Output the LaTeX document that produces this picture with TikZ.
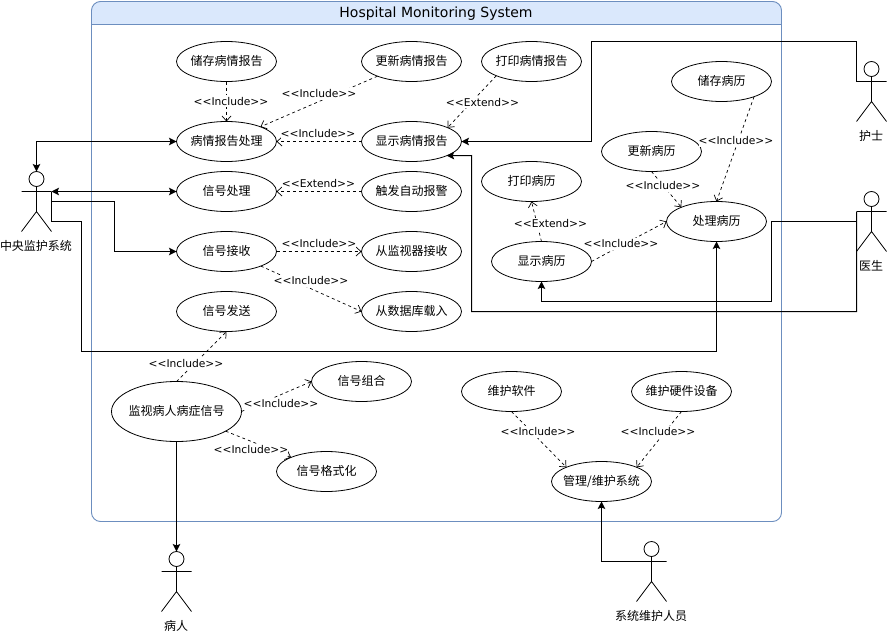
\documentclass[tikz,border=0pt]{standalone}
\usepackage{fontspec}
\setmainfont{DejaVu Sans}
\newfontfamily\cjkf{Noto Sans CJK SC}
\usetikzlibrary{arrows.meta,shapes.geometric}
\definecolor{frameblue}{HTML}{6C8EBF}
\definecolor{titleblue}{HTML}{DAE8FC}
\newcommand{\ucname}[1]{\smash{\makebox[0pt][c]{\raisebox{-4.4pt}{#1}}}}
\newcommand{\incl}{{<}{<}Include{>}{>}}
\newcommand{\extd}{{<}{<}Extend{>}{>}}
\tikzset{
  usecase/.style={ellipse,draw=black,line width=0.8pt,fill=white,inner sep=0pt,outer sep=0pt,minimum width=100pt,minimum height=40pt,font=\cjkf\fontsize{12}{14}\selectfont},
  actorbox/.style={rectangle,inner sep=0pt,outer sep=0pt,minimum width=30pt,minimum height=60pt},
  actorline/.style={draw=black,line width=0.8pt},
  actortext/.style={font=\cjkf\fontsize{12}{14}\selectfont,inner sep=0pt},
  assoc/.style={draw=black,line width=1pt,>={Stealth[length=7.5pt,width=7.5pt,inset=1.5pt]}},
  dep/.style={draw=black,line width=0.7pt,dash pattern=on 3pt off 3pt,-{Straight Barb[length=5pt,width=9pt]}},
  deplabel/.style={fill=white,inner xsep=0pt,inner ysep=0pt,minimum height=12pt,yshift=-0.7pt,font=\fontsize{10.7}{12}\selectfont},
}
\newcommand{\actorfig}[4]{%
  \node[actorbox] (#1) at (#2+15,#3+30) {};
  \coordinate (#1-al) at (#2,#3+20);
  \coordinate (#1-ar) at (#2+30,#3+20);
  \coordinate (#1-r) at (#2+30,#3+50);
  \draw[actorline,fill=white] (#2+15,#3+7.5) circle (7.5pt);
  \draw[actorline] (#2+15,#3+15) -- (#2+15,#3+40) (#2,#3+20) -- (#2+30,#3+20) (#2,#3+60) -- (#2+15,#3+40) -- (#2+30,#3+60);
  \node[actortext] (#1-label) at (#2+14.5,#3+74.5) {#4};
}
\begin{document}
\begin{tikzpicture}[x=1pt,y=-1pt]
\useasboundingbox (0,0) rectangle (887,632);
% system frame
\begin{scope}
\clip (91.5,0) rectangle (781.5,24.5);
\fill[titleblue,rounded corners=9pt] (91.5,1.5) rectangle (781.5,60);
\end{scope}
\draw[frameblue,line width=0.9pt,rounded corners=9pt] (91.5,1.5) rectangle (781.5,521.5);
\draw[frameblue,line width=0.9pt] (91.5,24.5) -- (781.5,24.5);
\node[inner sep=0pt,font=\fontsize{14}{16}\selectfont] (title) at (436,13.5) {Hospital Monitoring System};
% use cases
\node[usecase] (storereport) at (226.5,61.5) {\ucname{储存病情报告}};
\node[usecase] (updatereport) at (411.5,61.5) {\ucname{更新病情报告}};
\node[usecase] (printreport) at (531.5,61.5) {\ucname{打印病情报告}};
\node[usecase] (reportproc) at (226.5,141.5) {\ucname{病情报告处理}};
\node[usecase] (showreport) at (411.5,141.5) {\ucname{显示病情报告}};
\node[usecase] (sigproc) at (226.5,191.5) {\ucname{信号处理}};
\node[usecase] (alarm) at (411.5,191.5) {\ucname{触发自动报警}};
\node[usecase] (sigrecv) at (226.5,251.5) {\ucname{信号接收}};
\node[usecase] (frommon) at (411.5,251.5) {\ucname{从监视器接收}};
\node[usecase] (sigsend) at (226.5,311.5) {\ucname{信号发送}};
\node[usecase] (fromdb) at (411.5,311.5) {\ucname{从数据库载入}};
\node[usecase,minimum width=130pt,minimum height=60pt] (monitor) at (176.5,411.5) {\ucname{监视病人病症信号}};
\node[usecase] (sigcomb) at (361.5,381.5) {\ucname{信号组合}};
\node[usecase] (sigfmt) at (326.5,471.5) {\ucname{信号格式化}};
\node[usecase] (storerec) at (721.5,81.5) {\ucname{储存病历}};
\node[usecase] (updaterec) at (651.5,151.5) {\ucname{更新病历}};
\node[usecase] (printrec) at (531.5,181.5) {\ucname{打印病历}};
\node[usecase] (rec) at (716.5,221.5) {\ucname{处理病历}};
\node[usecase] (showrec) at (541.5,261.5) {\ucname{显示病历}};
\node[usecase] (mntsw) at (511.5,391.5) {\ucname{维护软件}};
\node[usecase] (mnthw) at (681.5,391.5) {\ucname{维护硬件设备}};
\node[usecase] (manage) at (601.5,481.5) {\ucname{管理/维护系统}};
% actors
\actorfig{central}{21.5}{171.5}{中央监护系统}
\actorfig{nurse}{856.5}{61.5}{护士}
\actorfig{doctor}{856.5}{191.5}{医生}
\actorfig{patient}{161.5}{551.5}{病人}
\actorfig{maint}{636.5}{541.5}{系统维护人员}
% associations
\draw[assoc,<->] (central.north) |- (reportproc.west);
\draw[assoc,<->] (central-ar) -- (sigproc.west);
\draw[assoc,->] (central.east) -- (114.5,201.5) -- (114.5,251.5) -- (sigrecv.west);
\draw[assoc,->] (central-ar) -- (central-r) -- (81.5,221.5) -- (81.5,351.5) -| (rec.south);
\draw[assoc,->] (nurse-al) -- (856.5,41.5) -- (591.5,41.5) -- (591.5,141.5) -- (showreport.east);
\draw[assoc,->] (doctor.west) -- (771.5,221.5) -- (771.5,301.5) -| (showrec.south);
\draw[assoc,->] (doctor-al) -- (856.5,311.5) -- (471.5,311.5) -- (471.5,155.5) -- (showreport.338);
\draw[assoc,->] (monitor.south) -- (patient.north);
\draw[assoc,->] (maint-al) -| (manage.south);
% dependencies
\draw[dep] (storereport.south) -- (reportproc.north);
\draw[dep] (updatereport) -- (reportproc);
\draw[dep] (showreport.west) -- (reportproc.east);
\draw[dep] (alarm.west) -- (sigproc.east);
\draw[dep] (sigrecv.east) -- (frommon.west);
\draw[dep] (sigrecv.337) -- (fromdb.west);
\draw[dep] (printreport.202) -- (showreport.21);
\draw[dep] (storerec.335) -- (rec.north);
\draw[dep] (updaterec.south) -- (rec.158);
\draw[dep] (showrec.north) -- (printrec.south);
\draw[dep] (showrec.east) -- (rec.west);
\draw[dep] (monitor.north) -- (sigsend.south);
\draw[dep] (monitor.east) -- (sigcomb.west);
\draw[dep] (monitor) -- (sigfmt);
\draw[dep] (mntsw.south) -- (manage.158);
\draw[dep] (mnthw.south) -- (manage.22);
% labels
\node[deplabel] (l1) at (231,100.5) {\incl};
\node[deplabel] (l2) at (319,93) {\incl};
\node[deplabel] (l3) at (318,133) {\incl};
\node[deplabel] (l4) at (318.5,183) {\extd};
\node[deplabel] (l5) at (319,243) {\incl};
\node[deplabel] (l6) at (311,280) {\incl};
\node[deplabel] (l7) at (482.5,101.5) {\extd};
\node[deplabel] (l8) at (736,140) {\incl};
\node[deplabel] (l9) at (663,185) {\incl};
\node[deplabel] (l10) at (550.5,223) {\extd};
\node[deplabel] (l11) at (621,243) {\incl};
\node[deplabel] (l12) at (186,363) {\incl};
\node[deplabel] (l13) at (281,403) {\incl};
\node[deplabel] (l14) at (251,449) {\incl};
\node[deplabel] (l15) at (538,431) {\incl};
\node[deplabel] (l16) at (658,431) {\incl};
\end{tikzpicture}
\end{document}
